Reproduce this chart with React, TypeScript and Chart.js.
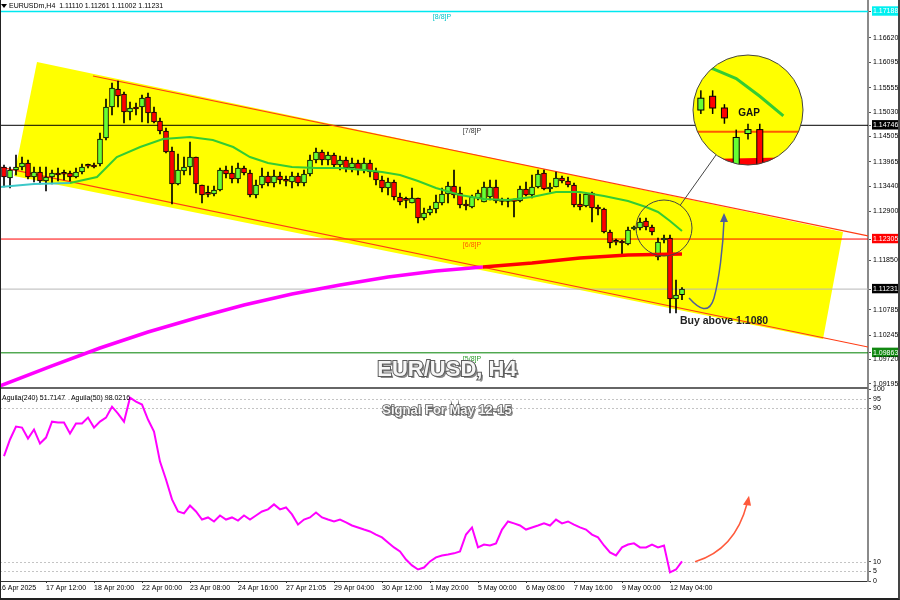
import React, { useEffect, useRef } from 'react';
import { Chart, registerables } from 'chart.js';

Chart.register(...registerables);

const FONT = '"Liberation Sans", Arial, Helvetica, sans-serif';

// ---------- texts ----------
const headerText = 'EURUSDm,H4  1.11110 1.11261 1.11002 1.11231';
const indicatorText = 'Aguila(240) 51.7147   Aguila(50) 98.0216';
const titleText = 'EUR/USD, H4';
const subtitleText = 'Signal For May 12-15';
const buyText = 'Buy above 1.1080';
const gapText = 'GAP';

// ---------- candles (H4) ----------
const opens = [
  1.13851, 1.13615, 1.13787, 1.13851, 1.13937, 1.13637, 1.13744, 1.13551, 1.13637, 1.13722,
  1.13701, 1.13722, 1.13637, 1.13744, 1.13873, 1.13894, 1.13916, 1.14474, 1.15139, 1.15525,
  1.15418, 1.15032, 1.15139, 1.15139, 1.15353, 1.15032, 1.14838, 1.14624, 1.14195, 1.13486,
  1.13765, 1.13851, 1.14066, 1.13465, 1.13272, 1.13272, 1.13358, 1.13787, 1.13722, 1.13594,
  1.13830, 1.13722, 1.13250, 1.13465, 1.13658, 1.13508, 1.13658, 1.13551, 1.13529, 1.13658,
  1.13508, 1.13701, 1.14001, 1.14173, 1.14001, 1.14109, 1.13894, 1.14001, 1.13830, 1.13937,
  1.13787, 1.13937, 1.13744, 1.13572, 1.13401, 1.13529, 1.13207, 1.13143, 1.13079, 1.13186,
  1.12757, 1.12864, 1.12950, 1.13079, 1.13272, 1.13443, 1.13293, 1.13036, 1.12993, 1.13186,
  1.13100, 1.13207, 1.13422, 1.13122, 1.13122, 1.13122, 1.13122, 1.13379, 1.13250, 1.13422,
  1.13722, 1.13379, 1.13422, 1.13615, 1.13551, 1.13465, 1.13057, 1.13014, 1.13293, 1.12971,
  1.12950, 1.12456, 1.12242, 1.12242, 1.12199, 1.12521, 1.12542, 1.12692, 1.12564, 1.11920,
  1.12285, 1.12328, 1.11019, 1.11110,
];
const highs = [
  1.13894, 1.13851, 1.14109, 1.14066, 1.14001, 1.13851, 1.13851, 1.13851, 1.13787, 1.13830,
  1.13787, 1.13765, 1.13830, 1.13916, 1.13916, 1.13937, 1.14581, 1.15310, 1.15654, 1.15697,
  1.15461, 1.15246, 1.15225, 1.15396, 1.15439, 1.15139, 1.14903, 1.14688, 1.14280, 1.14130,
  1.14066, 1.14388, 1.14066, 1.13465, 1.13443, 1.13443, 1.13830, 1.13873, 1.13873, 1.13937,
  1.13873, 1.13787, 1.13572, 1.13830, 1.13744, 1.13787, 1.13744, 1.13658, 1.13744, 1.13722,
  1.13787, 1.14109, 1.14259, 1.14216, 1.14173, 1.14152, 1.14087, 1.14066, 1.14044, 1.14001,
  1.14044, 1.14001, 1.13830, 1.13658, 1.13615, 1.13572, 1.13293, 1.13207, 1.13401, 1.13186,
  1.12971, 1.13014, 1.13250, 1.13401, 1.13529, 1.13787, 1.13422, 1.13143, 1.13250, 1.13358,
  1.13529, 1.13572, 1.13572, 1.13186, 1.13186, 1.13165, 1.13443, 1.13529, 1.13680, 1.13787,
  1.13787, 1.13508, 1.13744, 1.13658, 1.13637, 1.13508, 1.13272, 1.13293, 1.13315, 1.13036,
  1.12971, 1.12499, 1.12306, 1.12285, 1.12564, 1.12585, 1.12757, 1.12757, 1.12606, 1.12328,
  1.12392, 1.12392, 1.11426, 1.11261,
];
const lows = [
  1.13422, 1.13401, 1.13680, 1.13787, 1.13594, 1.13529, 1.13486, 1.13336, 1.13486, 1.13551,
  1.13572, 1.13551, 1.13615, 1.13701, 1.13830, 1.13830, 1.13873, 1.14431, 1.14967, 1.15139,
  1.14795, 1.14860, 1.14967, 1.14817, 1.14795, 1.14795, 1.14559, 1.14152, 1.13057, 1.13465,
  1.13680, 1.13680, 1.13293, 1.13079, 1.13207, 1.13229, 1.13336, 1.13615, 1.13508, 1.13508,
  1.13680, 1.13207, 1.13186, 1.13401, 1.13443, 1.13422, 1.13486, 1.13443, 1.13401, 1.13443,
  1.13443, 1.13658, 1.13937, 1.13894, 1.13894, 1.13830, 1.13787, 1.13744, 1.13744, 1.13680,
  1.13722, 1.13637, 1.13465, 1.13315, 1.13250, 1.13143, 1.13036, 1.12971, 1.13079, 1.12649,
  1.12714, 1.12821, 1.12864, 1.13036, 1.13079, 1.13186, 1.12971, 1.12928, 1.12971, 1.13143,
  1.13100, 1.13143, 1.13079, 1.13036, 1.12993, 1.12778, 1.13100, 1.13229, 1.13186, 1.13401,
  1.13358, 1.13315, 1.13422, 1.13508, 1.13422, 1.12993, 1.12928, 1.12993, 1.12671, 1.12821,
  1.12435, 1.12113, 1.12177, 1.11963, 1.12177, 1.12499, 1.12499, 1.12499, 1.12392, 1.11855,
  1.12220, 1.10718, 1.10718, 1.11002,
];
const closes = [
  1.13637, 1.13787, 1.13851, 1.13937, 1.13637, 1.13744, 1.13551, 1.13637, 1.13722, 1.13680,
  1.13695, 1.13637, 1.13744, 1.13851, 1.13868, 1.13851, 1.14452, 1.15139, 1.15547, 1.15375,
  1.15032, 1.15117, 1.15096, 1.15332, 1.15010, 1.14817, 1.14624, 1.14173, 1.13486, 1.13787,
  1.13851, 1.14066, 1.13486, 1.13250, 1.13265, 1.13358, 1.13787, 1.13701, 1.13594, 1.13830,
  1.13722, 1.13250, 1.13465, 1.13658, 1.13508, 1.13658, 1.13572, 1.13545, 1.13658, 1.13508,
  1.13701, 1.14001, 1.14173, 1.14001, 1.14109, 1.13894, 1.14001, 1.13830, 1.13937, 1.13787,
  1.13937, 1.13744, 1.13572, 1.13401, 1.13529, 1.13207, 1.13100, 1.13135, 1.13186, 1.12757,
  1.12864, 1.12950, 1.13100, 1.13272, 1.13443, 1.13250, 1.13036, 1.13014, 1.13207, 1.13293,
  1.13422, 1.13422, 1.13122, 1.13115, 1.13115, 1.13115, 1.13379, 1.13250, 1.13422, 1.13701,
  1.13379, 1.13422, 1.13615, 1.13551, 1.13465, 1.13036, 1.12993, 1.13272, 1.12971, 1.12950,
  1.12456, 1.12220, 1.12236, 1.12220, 1.12499, 1.12542, 1.12671, 1.12564, 1.12456, 1.12242,
  1.12328, 1.11019, 1.11104, 1.11231,
];

// ---------- moving averages: [bar index, price] ----------
const maFastCyan = [[-0.67, 1.13422], [5, 1.13486], [11, 1.13508]];
const maFast = [
  [11, 1.13508], [15.5, 1.13637], [18.8, 1.14066], [22.7, 1.1428], [26.5, 1.14452], [31, 1.14495],
  [34.8, 1.14431], [38.2, 1.1428], [41, 1.14066], [44, 1.13937], [48, 1.13851], [52, 1.1383],
  [56, 1.1383], [60, 1.13787], [63, 1.13744], [66, 1.1368], [69, 1.13551], [72, 1.13401],
  [76, 1.1325], [80, 1.13165], [84, 1.13143], [88, 1.13207], [92, 1.13315], [96, 1.13315],
  [100, 1.13229], [104, 1.13122], [107, 1.12993], [109, 1.12886], [111, 1.12692], [113, 1.12478],
];
const maSlowMagenta = [
  [-0.67, 1.09152], [8, 1.09581], [16, 1.09967], [24, 1.1031], [32, 1.10611], [40, 1.1089],
  [48, 1.11126], [56, 1.11319], [64, 1.11491], [72, 1.11619], [79.8, 1.11705],
];
const maSlowRed = [[79.8, 1.11705], [88, 1.11791], [96, 1.11898], [104, 1.11963], [113, 1.11984]];

// ---------- oscillator ----------
const aguila = [
  65, 73.7, 80.4, 79.9, 74.2, 78.9, 71.6, 74.7, 83.0, 82.5,
  82.5, 76.8, 82.0, 82.0, 85.1, 79.9, 83.0, 85.1, 90.8, 87.2,
  83.0, 95.5, 93.4, 91.9, 84.1, 77.8, 62.2, 52.9, 42.5, 36.2,
  35.2, 39.3, 36.2, 32.0, 33.1, 31.0, 34.1, 32.0, 33.1, 31.5,
  34.1, 32.0, 34.1, 36.2, 37.3, 39.9, 37.3, 38.3, 34.7, 29.4,
  32.0, 33.1, 35.7, 33.1, 32.0, 31.0, 32.0, 30.5, 28.9, 27.9,
  26.8, 25.8, 24.2, 22.7, 20.1, 17.5, 15.4, 11.2, 8.1, 6.0,
  7.0, 10.2, 12.3, 13.3, 13.8, 14.4, 15.4, 24.2, 27.9, 17.5,
  19.0, 18.5, 19.6, 26.8, 31.0, 30.0, 28.9, 26.8, 27.9, 28.9,
  30.0, 28.9, 32.0, 30.0, 31.0, 29.4, 27.9, 26.8, 24.2, 22.7,
  18.5, 14.9, 13.3, 17.5, 19.0, 19.6, 17.5, 17.5, 19.0, 17.5,
  18.5, 4.5, 6.0, 10.2,
];

// ---------- axes ----------
const timeTickIndex = [-1, 7, 15, 23, 31, 39, 47, 55, 63, 71, 79, 87, 95, 103, 111];
const timeTickLabels = [
  '16 Apr 2025', '17 Apr 12:00', '18 Apr 20:00', '22 Apr 00:00', '23 Apr 08:00', '24 Apr 16:00',
  '27 Apr 21:05', '29 Apr 04:00', '30 Apr 12:00', '1 May 20:00', '5 May 00:00', '6 May 08:00',
  '7 May 16:00', '9 May 00:00', '12 May 04:00',
];
const priceTicks = [
  1.17188, 1.1662, 1.16095, 1.15555, 1.1503, 1.14746, 1.14505, 1.13965, 1.1344, 1.129,
  1.12305, 1.1185, 1.11231, 1.10785, 1.10245, 1.09863, 1.0972, 1.09195,
];
const aguilaTicks = [0, 5, 10, 90, 95, 100];
const aguilaLevels = [5, 10, 90, 95];

// ---------- levels & drawings (data coordinates) ----------
const levelValues = [1.17188, 1.14746, 1.12305, 1.09863];
const levelNames = ['[8/8]P', '[7/8]P', '[6/8]P', '[5/8]P'];
const bidPrice = 1.11231;
const channelArea = [[5.5, 1.16105], [139.83, 1.12456], [136.5, 1.1016], [1.67, 1.13658]];
const channelUpper = [[14.83, 1.15804], [144, 1.12371]];
const channelLower = [[-0.67, 1.13851], [144, 1.09988]];
const zoomCenter = [110, 1.12542];
const insetCenter = [124, 1.15074];
const buyAnchor = [112.67, 1.10482];
const arrowAnchor = [114.17, 1.1104];
const titleAnchor = [73.83, 1.09366];
const subtitleAnchor = [73.83, 88.8];
const redArrowAnchor = [115.17, 10];

// ---------- styles ----------
const X_MIN = -0.6667;
const X_MAX = 144;
const Y_MIN = 1.0913;
const Y_MAX = 1.17435;
const LEVEL_LINE = ['#00e8f0', '#000000', '#ff0000', '#008000'];
const LEVEL_W = [1.5, 1, 1, 1];
const LEVEL_TEXT = ['#00c4c8', '#333333', '#ff5a00', '#2a9a2a'];
const LEVEL_LABEL_X = [73, 78, 78, 78];
const BOX_COLORS: Record<string, string> = {
  '1.17188': '#00f0f0',
  '1.14746': '#000000',
  '1.12305': '#ff0000',
  '1.11231': '#000000',
  '1.09863': '#118811',
};
const BULL = '#66ff33';
const BEAR = '#ff0000';

const boxFor = (v: number) => BOX_COLORS[Number(v).toFixed(5)];

function drawCandle(ctx: any, x: number, yo: number, yh: number, yl: number, yc: number, bw: number, ww: number, bull: boolean) {
  ctx.fillStyle = '#000';
  ctx.fillRect(x - ww / 2, yh, ww, yl - yh);
  const top = Math.min(yo, yc);
  const h = Math.max(Math.abs(yo - yc), 2);
  ctx.fillStyle = bull ? BULL : BEAR;
  ctx.fillRect(x - bw / 2, top, bw, h);
  ctx.strokeStyle = '#000';
  ctx.lineWidth = 1;
  ctx.strokeRect(x - bw / 2, top, bw, h);
}

const mainDecor = {
  id: 'mainDecor',
  beforeDatasetsDraw(chart: any) {
    const { ctx, chartArea: a, scales } = chart;
    const xs = scales.x;
    const ys = scales.y;
    const P = (p: number[]) => [xs.getPixelForValue(p[0]), ys.getPixelForValue(p[1])];
    ctx.save();
    ctx.beginPath();
    ctx.rect(a.left, a.top, a.right - a.left, a.bottom - a.top);
    ctx.clip();
    // channel fill
    ctx.beginPath();
    channelArea.forEach((p, k) => {
      const [px, py] = P(p);
      if (k) ctx.lineTo(px, py);
      else ctx.moveTo(px, py);
    });
    ctx.closePath();
    ctx.fillStyle = '#ffff00';
    ctx.fill();
    // levels
    levelValues.forEach((v, k) => {
      const yy = ys.getPixelForValue(v);
      ctx.strokeStyle = LEVEL_LINE[k];
      ctx.lineWidth = LEVEL_W[k];
      ctx.beginPath();
      ctx.moveTo(a.left, yy);
      ctx.lineTo(a.right, yy);
      ctx.stroke();
    });
    const yb = ys.getPixelForValue(bidPrice);
    ctx.strokeStyle = '#b8b8b8';
    ctx.lineWidth = 1;
    ctx.beginPath();
    ctx.moveTo(a.left, yb);
    ctx.lineTo(a.right, yb);
    ctx.stroke();
    // channel lines
    [channelUpper, channelLower].forEach((ln) => {
      const [x1, y1] = P(ln[0]);
      const [x2, y2] = P(ln[1]);
      ctx.strokeStyle = '#ff3c14';
      ctx.lineWidth = 1.2;
      ctx.beginPath();
      ctx.moveTo(x1, y1);
      ctx.lineTo(x2, y2);
      ctx.stroke();
    });
    ctx.restore();
  },
  afterDatasetsDraw(chart: any) {
    const { ctx, chartArea: a, scales } = chart;
    const xs = scales.x;
    const ys = scales.y;
    const P = (p: number[]) => [xs.getPixelForValue(p[0]), ys.getPixelForValue(p[1])];
    ctx.save();

    // level labels
    ctx.font = `7px ${FONT}`;
    ctx.textAlign = 'center';
    ctx.textBaseline = 'middle';
    levelValues.forEach((v, k) => {
      ctx.fillStyle = LEVEL_TEXT[k];
      ctx.fillText(levelNames[k], xs.getPixelForValue(LEVEL_LABEL_X[k]), ys.getPixelForValue(v) + 6);
    });

    // zoom circles
    const [sx, sy] = P(zoomCenter);
    const [cx, cy] = P(insetCenter);
    const r = 28;
    const R = 55;
    const M = R / r;
    const dx = cx - sx;
    const dy = cy - sy;
    const d = Math.hypot(dx, dy);
    ctx.strokeStyle = '#444';
    ctx.lineWidth = 1;
    ctx.beginPath();
    ctx.moveTo(sx + (dx / d) * r, sy + (dy / d) * r);
    ctx.lineTo(cx - (dx / d) * R, cy - (dy / d) * R);
    ctx.stroke();
    ctx.beginPath();
    ctx.arc(sx, sy, r, 0, Math.PI * 2);
    ctx.stroke();

    ctx.save();
    ctx.beginPath();
    ctx.arc(cx, cy, R, 0, Math.PI * 2);
    ctx.fillStyle = '#ffff00';
    ctx.fill();
    ctx.clip();
    const mag = (px: number, py: number) => [cx + M * (px - sx), cy + M * (py - sy)];
    // level line inside
    const [, ly] = mag(0, ys.getPixelForValue(levelValues[2]));
    ctx.strokeStyle = '#ff5a00';
    ctx.lineWidth = 2;
    ctx.beginPath();
    ctx.moveTo(cx - R, ly);
    ctx.lineTo(cx + R, ly);
    ctx.stroke();
    const magLine = (pts: number[][], color: string, w: number) => {
      ctx.strokeStyle = color;
      ctx.lineWidth = w;
      ctx.beginPath();
      pts.forEach((p, k) => {
        const [px, py] = P(p);
        const [mx, my] = mag(px, py);
        if (k) ctx.lineTo(mx, my);
        else ctx.moveTo(mx, my);
      });
      ctx.stroke();
    };
    magLine(maSlowRed, '#ff0000', 7);
    magLine(maFast, '#33cc33', 3);
    for (let i = 98; i < opens.length; i++) {
      const px = xs.getPixelForValue(i);
      const [mx] = mag(px, 0);
      const [, mo] = mag(0, ys.getPixelForValue(opens[i]));
      const [, mh] = mag(0, ys.getPixelForValue(highs[i]));
      const [, ml] = mag(0, ys.getPixelForValue(lows[i]));
      const [, mc] = mag(0, ys.getPixelForValue(closes[i]));
      drawCandle(ctx, mx, mo, mh, ml, mc, 6, 1.5, closes[i] >= opens[i]);
    }
    ctx.fillStyle = '#111';
    ctx.font = `bold 10px ${FONT}`;
    ctx.textAlign = 'center';
    ctx.textBaseline = 'middle';
    ctx.fillText(gapText, cx + 1, cy + 3);
    ctx.restore();
    ctx.strokeStyle = '#444';
    ctx.lineWidth = 1;
    ctx.beginPath();
    ctx.arc(cx, cy, R, 0, Math.PI * 2);
    ctx.stroke();

    // blue arrow
    const [ax, ay] = P(arrowAnchor);
    ctx.strokeStyle = '#4f5d9a';
    ctx.lineWidth = 1.5;
    ctx.beginPath();
    ctx.moveTo(ax, ay);
    ctx.bezierCurveTo(ax + 10, ay + 11, ax + 20, ay + 17, ax + 25, ay);
    ctx.bezierCurveTo(ax + 30, ay - 18, ax + 34, ay - 50, ax + 35, ay - 78);
    ctx.stroke();
    ctx.fillStyle = '#4f5d9a';
    ctx.beginPath();
    ctx.moveTo(ax + 35, ay - 85);
    ctx.lineTo(ax + 31, ay - 76);
    ctx.lineTo(ax + 39, ay - 76);
    ctx.closePath();
    ctx.fill();

    // buy text
    const [bx, by] = P(buyAnchor);
    ctx.fillStyle = '#222';
    ctx.font = `bold 10.5px ${FONT}`;
    ctx.textAlign = 'left';
    ctx.textBaseline = 'alphabetic';
    ctx.fillText(buyText, bx, by);

    // title
    const [tx, ty] = P(titleAnchor);
    ctx.font = `bold 22px ${FONT}`;
    ctx.textAlign = 'center';
    ctx.fillStyle = '#8a8a8a';
    ctx.fillText(titleText, tx + 2, ty + 2);
    ctx.lineWidth = 2;
    ctx.strokeStyle = '#5a5a5a';
    ctx.strokeText(titleText, tx, ty);
    ctx.fillStyle = '#f6f6f6';
    ctx.fillText(titleText, tx, ty);

    // header
    ctx.fillStyle = '#000';
    ctx.beginPath();
    ctx.moveTo(a.left + 1, a.top + 4);
    ctx.lineTo(a.left + 7, a.top + 4);
    ctx.lineTo(a.left + 4, a.top + 8);
    ctx.closePath();
    ctx.fill();
    ctx.font = `7px ${FONT}`;
    ctx.textAlign = 'left';
    ctx.textBaseline = 'middle';
    ctx.fillText(headerText, a.left + 9, a.top + 6.5);
    ctx.restore();
  },
};

const subDecor = {
  id: 'subDecor',
  beforeDatasetsDraw(chart: any) {
    const { ctx, chartArea: a, scales } = chart;
    const ys = scales.y;
    ctx.save();
    ctx.strokeStyle = '#c4c4c4';
    ctx.lineWidth = 1;
    ctx.setLineDash([2, 2]);
    aguilaLevels.forEach((v) => {
      const yy = Math.round(ys.getPixelForValue(v)) + 0.5;
      ctx.beginPath();
      ctx.moveTo(a.left, yy);
      ctx.lineTo(a.right, yy);
      ctx.stroke();
    });
    ctx.setLineDash([]);
    ctx.fillStyle = '#666';
    ctx.fillRect(a.left, a.top - 2, a.right - a.left, 2);
    ctx.restore();
  },
  afterDatasetsDraw(chart: any) {
    const { ctx, chartArea: a, scales } = chart;
    const xs = scales.x;
    const ys = scales.y;
    const P = (p: number[]) => [xs.getPixelForValue(p[0]), ys.getPixelForValue(p[1])];
    ctx.save();
    ctx.fillStyle = '#000';
    ctx.font = `7px ${FONT}`;
    ctx.textAlign = 'left';
    ctx.textBaseline = 'middle';
    ctx.fillText(indicatorText, a.left + 2, a.top + 9);

    const [sx, sy] = P(subtitleAnchor);
    ctx.font = `bold 13px ${FONT}`;
    ctx.textAlign = 'center';
    ctx.fillStyle = '#8a8a8a';
    ctx.fillText(subtitleText, sx + 1.5, sy + 1.5);
    ctx.lineWidth = 1.6;
    ctx.strokeStyle = '#5a5a5a';
    ctx.strokeText(subtitleText, sx, sy);
    ctx.fillStyle = '#f6f6f6';
    ctx.fillText(subtitleText, sx, sy);

    const [rx, ry] = P(redArrowAnchor);
    ctx.strokeStyle = '#ff5a3c';
    ctx.lineWidth = 1.5;
    ctx.beginPath();
    ctx.moveTo(rx, ry);
    ctx.quadraticCurveTo(rx + 40, ry - 12, rx + 52, ry - 58);
    ctx.stroke();
    ctx.fillStyle = '#ff5a3c';
    ctx.beginPath();
    ctx.moveTo(rx + 54, ry - 66);
    ctx.lineTo(rx + 48, ry - 57);
    ctx.lineTo(rx + 56, ry - 56);
    ctx.closePath();
    ctx.fill();
    ctx.restore();
  },
};

function mainConfig(): any {
  const idx = opens.map((_, i) => i);
  return {
    type: 'bar',
    data: {
      datasets: [
        {
          type: 'line', data: maSlowMagenta.map(([x, y]) => ({ x, y })), borderColor: '#ff00ff',
          borderWidth: 3.5, pointRadius: 0, tension: 0, order: 1,
        },
        {
          type: 'line', data: maSlowRed.map(([x, y]) => ({ x, y })), borderColor: '#ff0000',
          borderWidth: 3.5, pointRadius: 0, tension: 0, order: 1,
        },
        {
          type: 'line', data: maFastCyan.map(([x, y]) => ({ x, y })), borderColor: '#3cc8c8',
          borderWidth: 2, pointRadius: 0, tension: 0, order: 1,
        },
        {
          type: 'line', data: maFast.map(([x, y]) => ({ x, y })), borderColor: '#33cc33',
          borderWidth: 2, pointRadius: 0, tension: 0, order: 1,
        },
        {
          type: 'bar', data: idx.map((i) => ({ x: i, y: [lows[i], highs[i]] })), backgroundColor: '#000',
          barThickness: 1, grouped: false, order: 3,
        },
        {
          type: 'bar', data: idx.map((i) => ({ x: i, y: [opens[i], closes[i]] })),
          backgroundColor: idx.map((i) => (closes[i] >= opens[i] ? BULL : BEAR)),
          borderColor: '#000', borderWidth: 1, borderSkipped: false, barThickness: 5,
          grouped: false, minBarLength: 2, order: 2,
        },
      ],
    },
    options: {
      animation: false,
      responsive: false,
      events: [],
      layout: { padding: { left: 0, right: 0, top: 0, bottom: 1 } },
      plugins: { legend: { display: false }, tooltip: { enabled: false } },
      scales: {
        x: { type: 'linear', display: false, min: X_MIN, max: X_MAX, offset: false },
        y: {
          type: 'linear', position: 'right', min: Y_MIN, max: Y_MAX,
          afterBuildTicks: (s: any) => { s.ticks = priceTicks.map((v) => ({ value: v })); },
          afterFit: (s: any) => { s.width = 32; s.paddingTop = 0; s.paddingBottom = 0; },
          ticks: {
            autoSkip: false,
            padding: 2,
            font: { family: FONT, size: 7 },
            callback: (v: any) => Number(v).toFixed(5),
            color: (c: any) => (boxFor(c.tick.value) ? '#ffffff' : '#000000'),
            showLabelBackdrop: (c: any) => !!boxFor(c.tick.value),
            backdropColor: (c: any) => boxFor(c.tick.value) || 'rgba(0,0,0,0)',
            backdropPadding: { left: 1, right: 3, top: 1, bottom: 0 },
          },
          grid: { drawOnChartArea: false, drawTicks: true, tickLength: 3, color: '#555' },
          border: { display: true, color: '#8a8a8a', width: 2 },
        },
      },
    },
    plugins: [mainDecor],
  };
}

function subConfig(): any {
  return {
    type: 'line',
    data: {
      datasets: [
        {
          data: aguila.map((v, i) => ({ x: i, y: v })), borderColor: '#ff00ff', borderWidth: 2,
          pointRadius: 0, tension: 0,
        },
      ],
    },
    options: {
      animation: false,
      responsive: false,
      events: [],
      layout: { padding: { left: 0, right: 0, top: 7, bottom: 0 } },
      plugins: { legend: { display: false }, tooltip: { enabled: false } },
      scales: {
        x: {
          type: 'linear', position: 'bottom', min: X_MIN, max: X_MAX, offset: false,
          afterBuildTicks: (s: any) => { s.ticks = timeTickIndex.map((v) => ({ value: v })); },
          afterFit: (s: any) => { s.height = 19; s.paddingLeft = 0; s.paddingRight = 0; },
          ticks: {
            autoSkip: false, maxRotation: 0, minRotation: 0, align: 'start', padding: 1,
            font: { family: FONT, size: 7 }, color: '#000',
            callback: (_v: any, i: number) => timeTickLabels[i],
          },
          grid: { drawOnChartArea: false, drawTicks: true, tickLength: 2, color: '#333' },
          border: { display: true, color: '#333', width: 1 },
        },
        y: {
          type: 'linear', position: 'right', min: 0, max: 100,
          afterBuildTicks: (s: any) => { s.ticks = aguilaTicks.map((v) => ({ value: v })); },
          afterFit: (s: any) => { s.width = 32; s.paddingTop = 0; s.paddingBottom = 0; },
          ticks: {
            autoSkip: false, padding: 2, font: { family: FONT, size: 7 }, color: '#000',
            callback: (v: any) => String(v),
          },
          grid: { drawOnChartArea: false, drawTicks: true, tickLength: 3, color: '#555' },
          border: { display: true, color: '#8a8a8a', width: 2 },
        },
      },
    },
    plugins: [subDecor],
  };
}

export default function App() {
  const mainRef = useRef<HTMLCanvasElement>(null);
  const subRef = useRef<HTMLCanvasElement>(null);
  useEffect(() => {
    const main = new Chart(mainRef.current as HTMLCanvasElement, mainConfig());
    const sub = new Chart(subRef.current as HTMLCanvasElement, subConfig());
    return () => {
      main.destroy();
      sub.destroy();
    };
  }, []);
  return (
    <div style={{ position: 'fixed', left: 0, top: 0, width: 900, height: 600, background: '#fff', overflow: 'hidden' }}>
      <canvas ref={mainRef} width={900} height={388} style={{ position: 'absolute', left: 0, top: 0, width: 900, height: 388 }} />
      <canvas ref={subRef} width={900} height={218} style={{ position: 'absolute', left: 0, top: 382, width: 900, height: 218 }} />
      <div
        style={{
          position: 'absolute', left: 0, top: 0, width: 900, height: 600, boxSizing: 'border-box',
          borderLeft: '1px solid #222', borderRight: '2px solid #444', borderBottom: '2px solid #222',
          pointerEvents: 'none',
        }}
      />
    </div>
  );
}
